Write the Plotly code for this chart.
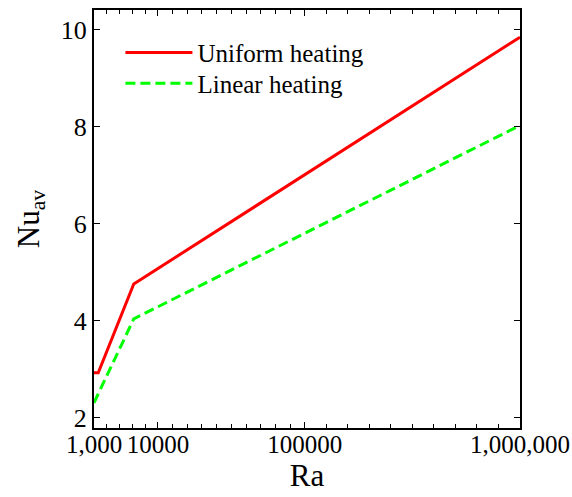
import numpy as np
import plotly.graph_objects as go

# ---- data ----
ra_uniform = [1000, 1600, 6600, 1000000]
nu_uniform = [2.93, 2.93, 4.76, 9.85]
ra_linear = [1000, 6600, 1000000]
nu_linear = [2.31, 4.04, 8.03]

major_ticks = [1000, 10000, 100000, 1000000]
major_labels = ["1,000", "10000", "100000", "1,000,000"]
y_ticks = [2, 4, 6, 8, 10]

# ---- axis scale (piecewise within each decade, as in the original figure) ----
scale_ra = [1000, 10000, 100000, 1000000]
scale_u = [0.0, 0.15, 0.495, 1.0]


def to_u(ra):
    return np.interp(np.asarray(ra, dtype=float), scale_ra, scale_u)


minor = list(np.arange(1000, 10000, 1800)) + list(np.arange(10000, 100000, 9000)) + \
    list(np.arange(100000, 1000001, 90000))

font = "Liberation Serif, Times New Roman, serif"

fig = go.Figure()
fig.add_trace(go.Scatter(x=to_u(ra_uniform), y=nu_uniform, mode="lines",
                         name="Uniform heating", legend="legend",
                         line=dict(color="#ff0000", width=3)))
fig.add_trace(go.Scatter(x=to_u(ra_linear), y=nu_linear, mode="lines",
                         name="Linear heating", legend="legend2",
                         line=dict(color="#00ff00", width=3, dash="10px,5px")))

leg_common = dict(xanchor="left", yanchor="top", bgcolor="rgba(0,0,0,0)",
                  font=dict(size=25), itemwidth=67)

fig.update_layout(
    width=572, height=497,
    margin=dict(l=94, r=52, t=10, b=69, autoexpand=False),
    paper_bgcolor="white", plot_bgcolor="white",
    font=dict(family=font, size=25, color="black"),
    showlegend=True,
    legend=dict(x=0.062, y=0.953, **leg_common),
    legend2=dict(x=0.062, y=0.879, **leg_common),
    xaxis=dict(range=[0, 1], tickmode="array", tickvals=to_u(major_ticks),
               ticktext=major_labels, tickangle=0, automargin=False,
               ticks="inside", ticklen=6, tickcolor="black", tickwidth=1,
               showline=True, linecolor="black", linewidth=2, mirror="ticks",
               showgrid=False, zeroline=False, ticklabelstandoff=-7,
               title=dict(text="Ra", font=dict(size=31), standoff=0),
               tickfont=dict(size=25)),
    xaxis2=dict(range=[0, 1], overlaying="x", anchor="y", side="bottom",
                tickmode="array", tickvals=to_u(minor), showticklabels=False,
                ticks="inside", ticklen=4, tickcolor="black", tickwidth=1,
                showline=False, mirror="ticks", showgrid=False, zeroline=False),
    yaxis=dict(range=[1.79, 10.41], tickmode="array", tickvals=y_ticks,
               automargin=False,
               ticks="inside", ticklen=6, tickcolor="black", tickwidth=1,
               showline=True, linecolor="black", linewidth=2, mirror="ticks",
               showgrid=False, zeroline=False,
               title=dict(text="Nu<sub>av</sub>", font=dict(size=31), standoff=12),
               tickfont=dict(size=26)),
)
# invisible trace to activate the minor-tick axis
fig.add_trace(go.Scatter(x=[0, 1], y=[None, None], xaxis="x2", yaxis="y",
                         showlegend=False, hoverinfo="skip"))

fig.write_html("out.html")
